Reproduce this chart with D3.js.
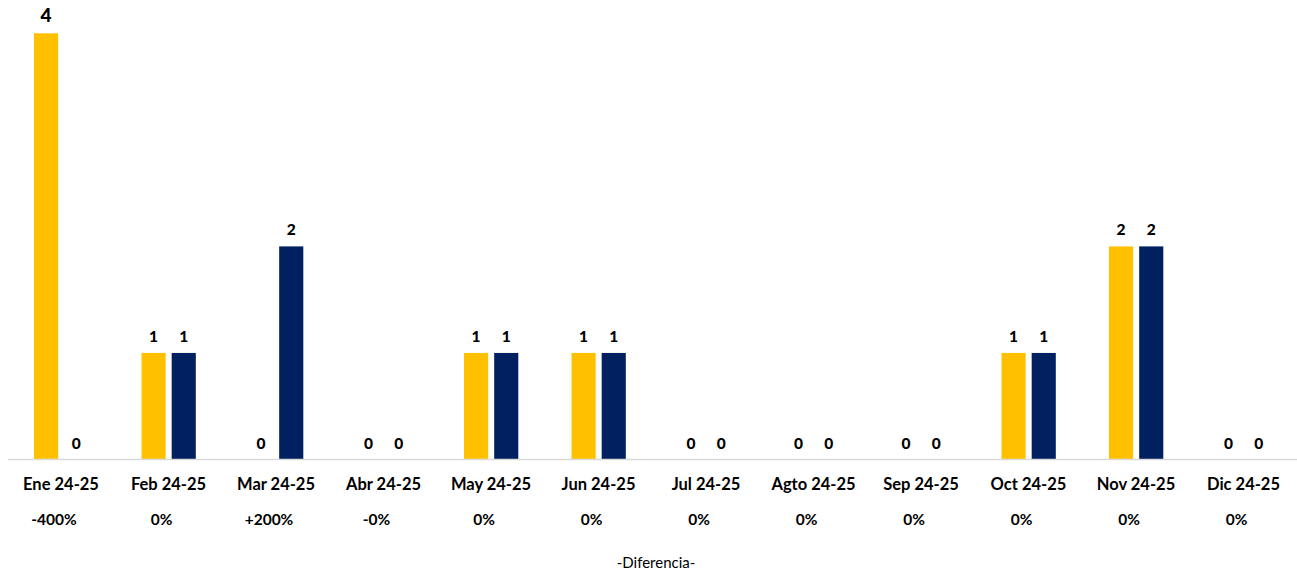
<!DOCTYPE html>
<html>
<head>
<meta charset="utf-8">
<script src="https://cdn.jsdelivr.net/npm/d3@7"></script>
<style>
  html, body { margin: 0; padding: 0; background: #fff; }
  svg { display: block; }
</style>
</head>
<body>
<svg id="chart" width="1297" height="574"></svg>
<script>
const categories = ["Ene 24-25","Feb 24-25","Mar 24-25","Abr 24-25","May 24-25","Jun 24-25","Jul 24-25","Agto 24-25","Sep 24-25","Oct 24-25","Nov 24-25","Dic 24-25"];
const seriesNames = ["2024","2025"];
const values2024 = [4,1,0,0,1,1,0,0,0,1,2,0];
const values2025 = [0,1,2,0,1,1,0,0,0,1,2,0];
const diffLabels = ["-400%","0%","+200%","-0%","0%","0%","0%","0%","0%","0%","0%","0%"];
const axisTitle = "-Diferencia-";
const yMax = 4;

const colors = { "2024": "#FFC000", "2025": "#002060" };
const svg = d3.select("#chart");
const font = "Lato, 'Open Sans', sans-serif";

const x = d3.scaleBand().domain(categories).range([7.25, 1297.25]).paddingInner(0).paddingOuter(0);
const x1 = d3.scaleBand().domain(seriesNames)
  .range([x.bandwidth() * 0.249, x.bandwidth() * 0.754]).paddingInner(0.2).paddingOuter(0);
const y = d3.scaleLinear().domain([0, yMax]).range([459.5, 33.3]);

const rows = categories.map((c, i) => ({
  cat: c,
  vals: [{ s: "2024", v: values2024[i] }, { s: "2025", v: values2025[i] }],
  diff: diffLabels[i]
}));

const g = svg.selectAll("g.cat").data(rows).join("g")
  .attr("class", "cat")
  .attr("transform", d => `translate(${x(d.cat)},0)`);

g.selectAll("rect").data(d => d.vals).join("rect")
  .attr("x", d => x1(d.s))
  .attr("width", x1.bandwidth())
  .attr("y", d => y(d.v))
  .attr("height", d => y(0) - y(d.v))
  .attr("fill", d => colors[d.s]);

g.selectAll("text.val").data(d => d.vals).join("text")
  .attr("class", "val")
  .attr("x", d => x1(d.s) + x1.bandwidth() / 2)
  .attr("y", d => y(d.v) - 11)
  .attr("text-anchor", "middle")
  .attr("font-family", font)
  .attr("font-weight", 900)
  .attr("font-size", d => d.v === 4 ? 19 : 15.5)
  .attr("fill", "#000")
  .text(d => d.v);

// baseline axis
const xAxis = d3.axisBottom(x).tickSize(0).tickPadding(0);
const axG = svg.append("g").attr("transform", `translate(0,${y(0)})`).call(xAxis);
axG.select(".domain").attr("stroke", "#d9d9d9").attr("stroke-width", 1.5).attr("d", `M8,0H1297`);
axG.selectAll(".tick text")
  .attr("y", 30)
  .attr("dy", 0)
  .attr("font-family", font)
  .attr("font-weight", 700)
  .attr("font-size", 16.5)
  .attr("fill", "#000");

// difference labels
svg.append("g").selectAll("text").data(rows).join("text")
  .attr("x", d => x(d.cat) + x.bandwidth() / 2 - 7)
  .attr("y", 525)
  .attr("text-anchor", "middle")
  .attr("font-family", font)
  .attr("font-weight", 700)
  .attr("font-size", 15.5)
  .attr("fill", "#000")
  .text(d => d.diff);

svg.append("text")
  .attr("x", 656)
  .attr("y", 568)
  .attr("text-anchor", "middle")
  .attr("font-family", font)
  .attr("font-size", 15)
  .attr("fill", "#000")
  .text(axisTitle);
</script>
</body>
</html>
